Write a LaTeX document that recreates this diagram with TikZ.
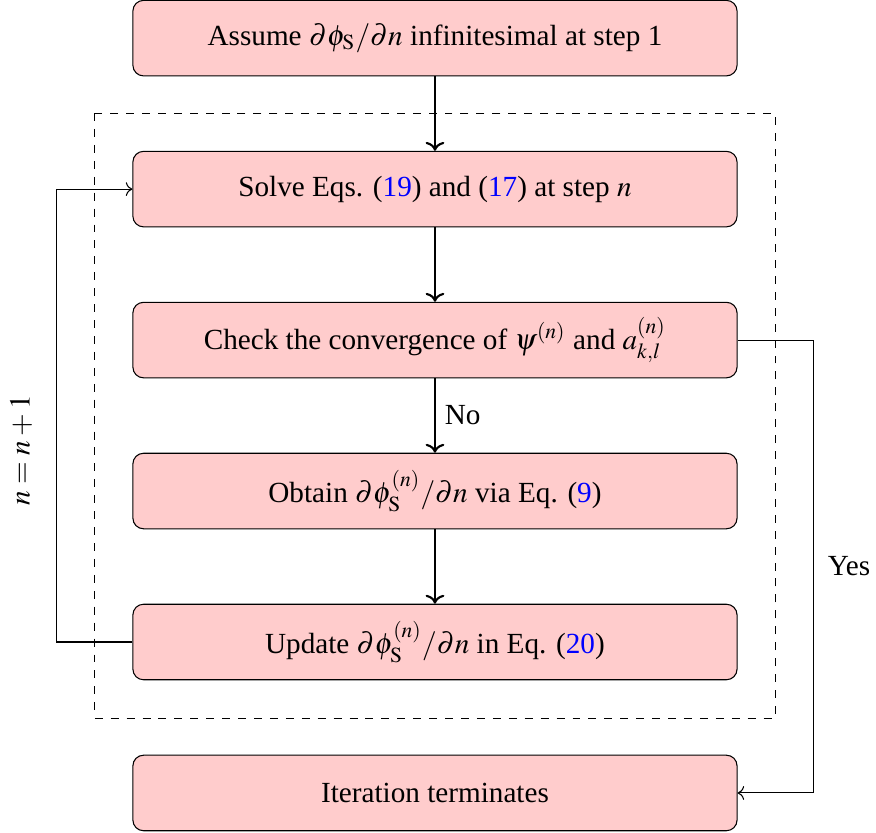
\documentclass[tikz,border=0pt]{standalone}
\usepackage{mathptmx}
\usepackage{fontspec}
\setmainfont{Liberation Serif}
\usepackage{xcolor}
\usetikzlibrary{shapes,arrows.meta}
\usetikzlibrary{positioning}

\begin{document}
\begin{tikzpicture}[node distance=0.985cm,font=\fontsize{11}{13}\selectfont]
\tikzset{flowbox/.style={rectangle,rounded corners,draw=black,fill=red!20,minimum width=8cm,minimum height=1cm}}
\useasboundingbox (-5.76,0.505) rectangle (5.84,-10.515);
\node[flowbox](assume){Assume $\partial\phi_{\mathrm{S}}/\partial n$ infinitesimal at step 1};
\node[flowbox](solve)[below=of assume]{Solve Eqs. (\textcolor{blue}{19}) and (\textcolor{blue}{17}) at step $n$};
\draw[thick,->](assume) -- (solve);
\node[flowbox](check)[below=of solve]{Check the convergence of $\psi^{(n)}$ and $a_{k,l}^{(n)}$};
\draw[thick,->](solve) -- (check);
\node[flowbox](obtain)[below=of check]{Obtain $\partial\phi_{\mathrm{S}}^{(n)}/\partial n$ via Eq. (\textcolor{blue}{9})};
\draw[thick,->](check) -- node[midway,right]{No} (obtain);
\node[flowbox](update)[below=of obtain]{Update $\partial\phi_{\mathrm{S}}^{(n)}/\partial n$ in Eq. (\textcolor{blue}{20})};
\draw[thick,->](obtain) -- (update);
\node[flowbox](term)[below=of update]{Iteration terminates};
% loop back and exit
\draw[->](update.west) -- ++(-1,0) |- (solve.west);
\node[rotate=90](incr) at (-5.48,-5.46){$n=n+1$};
\draw[->](check.east) -- ++(1,0) |- node[pos=0.25,right,xshift=2pt]{Yes} (term.east);
\draw[dashed]([xshift=-0.5cm,yshift=0.5cm]solve.north west) rectangle ([xshift=0.5cm,yshift=-0.5cm]update.south east);
\end{tikzpicture}
\end{document}
